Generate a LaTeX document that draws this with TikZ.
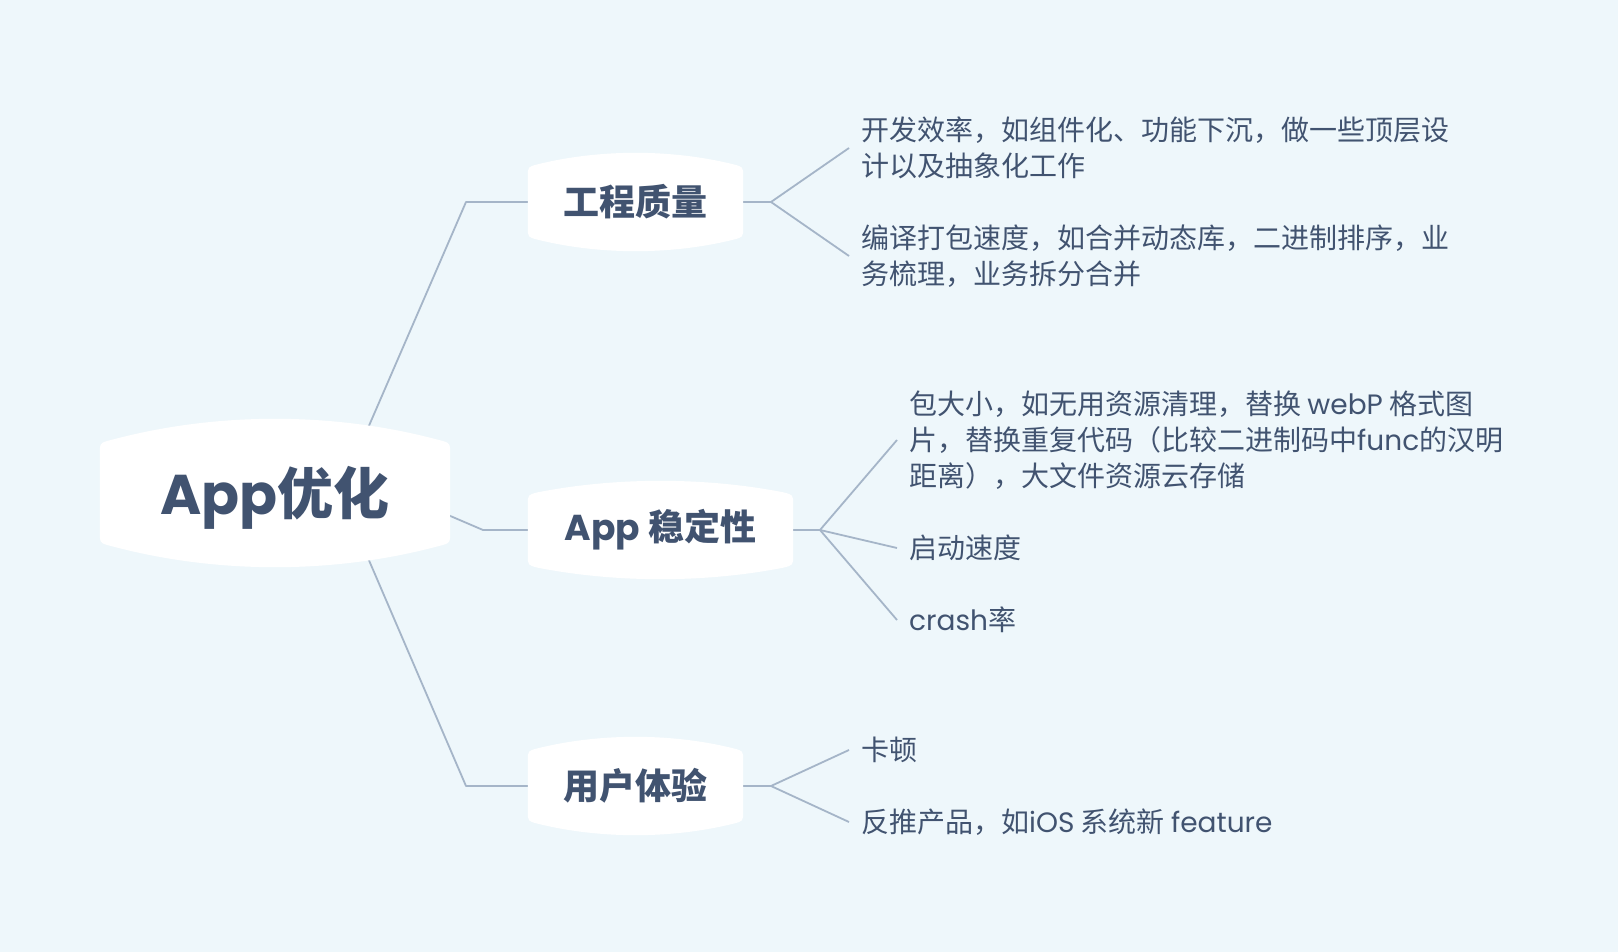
\documentclass[tikz,border=0pt]{standalone}
\usepackage{fontspec}
\setmainfont{Noto Sans CJK SC}
\newfontfamily\latf{Poppins}
\newcommand\lat[1]{{\latf #1}}
\usetikzlibrary{calc}
\definecolor{bgc}{HTML}{EEF7FB}
\definecolor{txt}{HTML}{415370}
\definecolor{lnc}{HTML}{A5B5C8}
\pgfdeclarelayer{lines}
\pgfdeclarelayer{shapes}
\pgfsetlayers{lines,shapes,main}
\newcommand\blob[4]{%
 \fill[white] let \p1=(#1.north west), \p2=(#1.south east) in
  (\x1,\y1-#2pt) -- (\x1,\y2+#2pt)
  .. controls (\x1,\y2) .. (\x1+#2pt,\y2-#3pt)
  .. controls ({(2*\x1+\x2)/3},\y2-#4pt) and ({(\x1+2*\x2)/3},\y2-#4pt) .. (\x2-#2pt,\y2-#3pt)
  .. controls (\x2,\y2) .. (\x2,\y2+#2pt)
  -- (\x2,\y1-#2pt)
  .. controls (\x2,\y1) .. (\x2-#2pt,\y1+#3pt)
  .. controls ({(\x1+2*\x2)/3},\y1+#4pt) and ({(2*\x1+\x2)/3},\y1+#4pt) .. (\x1+#2pt,\y1+#3pt)
  .. controls (\x1,\y1) .. (\x1,\y1-#2pt) -- cycle;
}
\tikzset{
  rootn/.style={rectangle, minimum width=350pt, minimum height=100pt, inner sep=0pt, text=txt,
    font=\fontsize{56}{60}\selectfont\bfseries},
  br/.style={rectangle, minimum height=70pt, inner sep=0pt, text=txt,
    font=\fontsize{36}{40}\selectfont\bfseries},
  leaf/.style={anchor=west, inner xsep=12pt, inner ysep=0pt, align=left, text=txt,
    font=\fontsize{28}{36}\selectfont},
  conn/.style={draw=lnc, line width=1.8pt, line join=round}
}
\begin{document}
\begin{tikzpicture}[x=1pt,y=-1pt]
\useasboundingbox (0,0) rectangle (1618,952);
\begin{pgfonlayer}{lines}
\fill[bgc] (0,0) rectangle (1618,952);
\end{pgfonlayer}

\node[rootn] (root) at (275,493) {\raisebox{-5pt}[\height][\depth]{\lat{App}优化}};
\node[br, minimum width=215pt] (b1) at (635.5,202) {工程质量};
\node[br, minimum width=265pt] (b2) at (660.5,530) {\lat{App} 稳定性};
\node[br, minimum width=215pt] (b3) at (635.5,786) {用户体验};

\node[leaf] (l1) at (849,148) {开发效率，如组件化、功能下沉，做一些顶层设\\计以及抽象化工作};
\node[leaf] (l2) at (849,256) {编译打包速度，如合并动态库，二进制排序，业\\务梳理，业务拆分合并};
\node[leaf] (l3) at (897,440) {包大小，如无用资源清理，替换 \lat{webP} 格式图\\片，替换重复代码（比较二进制码中\lat{func}的汉明\\距离），大文件资源云存储};
\node[leaf] (l4) at (897,548) {启动速度};
\node[leaf] (l5) at (897,620) {\lat{crash}率};
\node[leaf] (l6) at (849,750) {卡顿};
\node[leaf] (l7) at (849,822) {反推产品，如\lat{iOS} 系统新 \lat{feature}};

\coordinate (s1) at (368,428);
\coordinate (s2) at (448,515);
\coordinate (s3) at (368,558);
\coordinate (e1) at (466,202);
\coordinate (e2) at (483,530);
\coordinate (e3) at (466,786);
\coordinate (f1) at (771,202);
\coordinate (f2) at (820,530);
\coordinate (f3) at (771,786);

\begin{pgfonlayer}{shapes}
\blob{root}{12}{3}{31}
\blob{b1}{10}{2.5}{17.8}
\blob{b2}{10}{2.5}{17.8}
\blob{b3}{10}{2.5}{17.8}
\end{pgfonlayer}

\begin{pgfonlayer}{lines}
\draw[conn] (s1) -- (e1) -- (b1.west);
\draw[conn] (s2) -- (e2) -- (b2.west);
\draw[conn] (s3) -- (e3) -- (b3.west);
\draw[conn] (b1.east) -- (f1) -- (l1.west);
\draw[conn] (f1) -- (l2.west);
\draw[conn] (b2.east) -- (f2) -- (l3.west);
\draw[conn] (f2) -- (l4.west);
\draw[conn] (f2) -- (l5.west);
\draw[conn] (b3.east) -- (f3) -- (l6.west);
\draw[conn] (f3) -- (l7.west);
\end{pgfonlayer}
\end{tikzpicture}
\end{document}
